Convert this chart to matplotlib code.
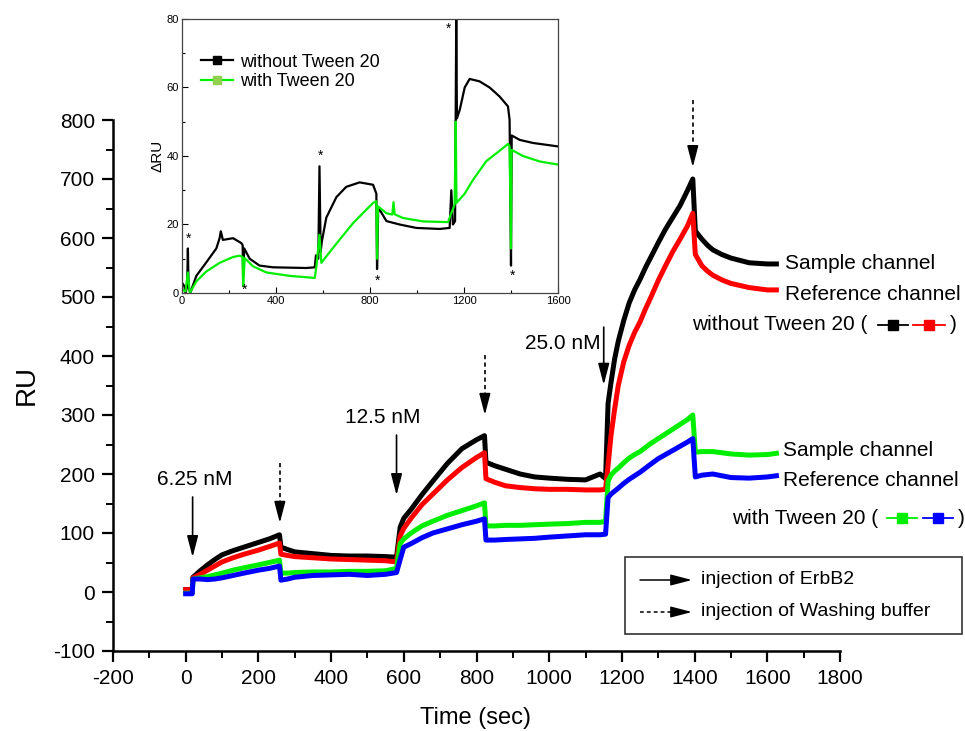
import matplotlib
matplotlib.use('Agg')
from matplotlib import pyplot as plt
from matplotlib.lines import Line2D
from matplotlib.patches import Rectangle, FancyArrowPatch
from matplotlib.ticker import MultipleLocator

plt.rcParams['font.family'] = ['Liberation Sans', 'DejaVu Sans']
plt.rcParams['axes.unicode_minus'] = False

# sensorgram, RU vs time (s), four channels
time = [0, 18, 20, 40, 60, 80, 100, 130, 160, 200, 230, 258, 262, 280, 300, 350, 400, 450, 500, 550,
        580, 590, 600, 620, 650, 680, 720, 760, 800, 822, 826, 850, 880, 920, 960, 1000, 1050, 1100, 1140, 1155,
        1162, 1170, 1180, 1190, 1205, 1220, 1235, 1250, 1265, 1280, 1300, 1320, 1340, 1360, 1380, 1395,
        1402, 1420, 1435, 1450, 1475, 1500, 1550, 1600, 1625]
sample_no_tween = [4, 4, 25, 36, 46, 55, 63, 70, 76, 84, 90, 97, 76, 72, 68, 65, 62, 61, 61, 60,
                   59, 110, 125, 140, 165, 188, 218, 243, 258, 265, 220, 214, 208, 200, 195, 193, 191, 190, 200, 192,
                   320, 355, 395, 425, 460, 490, 512, 530, 550, 568, 592, 615, 635, 655, 680, 700,
                   612, 598, 588, 580, 572, 566, 558, 556, 556]
ref_no_tween = [4, 4, 24, 30, 37, 44, 51, 58, 64, 71, 77, 83, 64, 62, 60, 58, 56, 55, 54, 53,
                51, 95, 108, 125, 148, 166, 190, 211, 228, 236, 192, 186, 180, 177, 175, 174, 174, 173, 173, 174,
                215, 265, 310, 350, 390, 418, 440, 458, 480, 500, 528, 553, 577, 598, 620, 642,
                572, 553, 544, 537, 529, 523, 516, 512, 512]
sample_tween = [-2, -2, 22, 24, 26, 29, 32, 37, 41, 46, 50, 54, 32, 32, 33, 34, 34, 35, 35, 36,
                40, 82, 90, 100, 112, 120, 130, 138, 146, 151, 112, 112, 113, 113, 114, 115, 116, 118, 118, 120,
                188, 198, 205, 210, 219, 227, 233, 238, 245, 252, 260, 268, 276, 284, 292, 300,
                237, 238, 238, 238, 236, 234, 232, 233, 235]
ref_tween = [-3, -3, 22, 22, 21, 22, 24, 28, 32, 37, 40, 44, 20, 22, 25, 28, 29, 30, 28, 30,
             33, 55, 76, 82, 92, 100, 107, 114, 120, 124, 88, 88, 89, 90, 91, 93, 95, 97, 97, 98,
             160, 166, 171, 176, 184, 191, 197, 203, 210, 217, 226, 233, 240, 247, 254, 260,
             195, 198, 199, 200, 197, 194, 193, 195, 197]

# difference curves (sample - reference) for the inset
dt_no_tween = [0, 10, 15, 22, 25, 28, 35, 61, 104, 146, 160, 165, 174, 217, 252, 258, 260, 265, 288, 330,
               387, 529, 565, 570, 580, 585, 590, 595, 614, 657, 699, 756, 813, 827, 830, 835, 870, 926, 997, 1096,
               1139, 1146, 1153, 1162, 1167, 1170, 1182, 1203, 1224, 1266, 1309, 1351, 1387, 1394, 1400, 1403, 1437, 1494, 1600]
dru_no_tween = [3, 2, 0, 2, 13, 2, 0, 5, 9, 13, 16, 18, 15.5, 16, 14.6, 14, 5, 13, 10, 8,
                7.5, 7.3, 7.5, 11, 10, 37, 12, 15, 22, 28, 31, 32.3, 31.6, 29, 7, 25, 21, 20, 19, 18.7,
                19, 30, 20, 21, 80, 51, 53.5, 60, 62.5, 61.8, 60, 57.4, 54.5, 50.6, 8, 46, 44.7, 43.8, 42.8]
dt_tween = [0, 15, 25, 33, 61, 104, 160, 217, 245, 258, 260, 267, 302, 359, 458, 565, 572, 585, 593, 614,
            671, 728, 784, 813, 827, 830, 834, 870, 895, 900, 905, 940, 1026, 1132, 1146, 1160, 1165, 1168, 1203, 1238,
            1295, 1351, 1387, 1394, 1400, 1402, 1451, 1522, 1600]
dru_tween = [1, 0.5, 6, 0, 3.4, 6.3, 8.8, 10.5, 10.9, 10.5, 2, 10.2, 7.8, 6, 5, 4.4, 7.8, 17, 8.8, 10.7,
             15.6, 20.4, 24.3, 26.3, 26.8, 10, 25.3, 23.3, 22.9, 26.5, 23, 21.9, 20.9, 20.7, 23.3, 25.8, 50, 26.3, 29, 33,
             38.5, 41.5, 43.5, 42.8, 13, 41.8, 40, 38.4, 37.5]
star_t = [26, 268, 590, 831, 1135, 1406]
star_v = [15.8, 1, 40, 3.6, 77, 5]

# ErbB2 injections (solid arrows) and washing buffer (dashed arrows)
conc_labels = ['6.25 nM', '12.5 nM', '25.0 nM']
conc_label_t = [25, 543, 1037]
conc_label_v = [190, 295, 422]
erb_t = [19, 580, 1150]
erb_top = [161, 266, 449]
erb_tip = [59, 164, 351]
wash_t = [259, 823, 1395]
wash_top = [219, 402, 834]
wash_tip = [117, 300, 720]

W, H = 965, 731
ARROW = '-|>,head_length=1.0,head_width=0.26'


def fpos(x, y):
    return x / W, 1 - y / H


def down_arrow(ax, x, top, tip, dashed=False):
    if dashed:
        ax.plot([x, x], [top, tip + 20], color='k', lw=1.2, ls=(0, (2.5, 2)), clip_on=False)
        start = tip + 22
    else:
        start = top
    ax.annotate('', xy=(x, tip), xytext=(x, start), annotation_clip=False,
                arrowprops=dict(arrowstyle=ARROW, color='k', lw=1.2, mutation_scale=13,
                                shrinkA=0, shrinkB=0))


fig = plt.figure(figsize=(9.65, 7.31), dpi=100)
ax = fig.add_axes([113 / W, 1 - 651 / H, (840 - 113) / W, (651 - 120) / H])

ax.plot(time, sample_no_tween, color='black', lw=3.6, solid_joinstyle='round')
ax.plot(time, ref_no_tween, color='#ff0000', lw=3.6, solid_joinstyle='round')
ax.plot(time, sample_tween, color='#00ee00', lw=3.6, solid_joinstyle='round')
ax.plot(time, ref_tween, color='#0000ff', lw=3.6, solid_joinstyle='round')

ax.set_xlim(-200, 1800)
ax.set_ylim(-100, 800)
ax.xaxis.set_major_locator(MultipleLocator(200))
ax.xaxis.set_minor_locator(MultipleLocator(100))
ax.yaxis.set_major_locator(MultipleLocator(100))
ax.yaxis.set_minor_locator(MultipleLocator(50))
ax.tick_params(which='major', direction='out', length=8, width=1.6, labelsize=15, pad=5)
ax.tick_params(which='minor', direction='out', length=5, width=1.4)
for side in ['top', 'right']:
    ax.spines[side].set_visible(False)
for side in ['left', 'bottom']:
    ax.spines[side].set_linewidth(1.8)

for i in range(3):
    ax.text(conc_label_t[i], conc_label_v[i], conc_labels[i], fontsize=15, ha='center', va='center')
    down_arrow(ax, erb_t[i], erb_top[i], erb_tip[i])
    down_arrow(ax, wash_t[i], wash_top[i], wash_tip[i], dashed=True)

fig.text(*fpos(27, 385), 'RU', fontsize=20, rotation=90, ha='center', va='center')
fig.text(*fpos(476, 718), 'Time (sec)', fontsize=17, ha='center', va='center')

# channel labels on the right
fig.text(*fpos(785, 263), 'Sample channel', fontsize=15, va='center')
fig.text(*fpos(785, 294), 'Reference channel', fontsize=15, va='center')
fig.text(*fpos(692, 325), 'without Tween 20 (', fontsize=15, va='center')
fig.text(*fpos(950, 325), ')', fontsize=15, va='center')
fig.text(*fpos(783, 450), 'Sample channel', fontsize=15, va='center')
fig.text(*fpos(783, 481), 'Reference channel', fontsize=15, va='center')
fig.text(*fpos(732, 518), 'with Tween 20 (', fontsize=15, va='center')
fig.text(*fpos(958, 518), ')', fontsize=15, va='center')

key_marks = [(878, 908, 325, 'black'), (913, 945, 325, '#ff0000'),
             (887, 917, 518, '#00ee00'), (923, 953, 518, '#0000ff')]
for x0, x1, y, c in key_marks:
    xa, ya = fpos(x0, y)
    xb, _ = fpos(x1, y)
    fig.add_artist(Line2D([xa, xb], [ya, ya], color=c, lw=1.3))
    fig.add_artist(Line2D([(xa + xb) / 2], [ya], marker='s', ms=7, color=c, lw=0))

# key for the injection arrows
bx0, by0 = fpos(625, 634)
bx1, by1 = fpos(962, 557)
fig.add_artist(Rectangle((bx0, by0), bx1 - bx0, by1 - by0, fill=False, ec='#333333', lw=1.2,
                         transform=fig.transFigure))
for y, dashed, label in [(580, False, 'injection of ErbB2'), (612, True, 'injection of Washing buffer')]:
    xa, ya = fpos(640, y)
    xb, _ = fpos(692, y)
    if dashed:
        fig.add_artist(Line2D([xa, xb - 0.01], [ya, ya], color='k', lw=1.1, ls=(0, (2.5, 2))))
        start = xb - 0.013
    else:
        start = xa
    fig.add_artist(FancyArrowPatch((start, ya), (xb, ya), transform=fig.transFigure,
                                   arrowstyle=ARROW, mutation_scale=13, color='k', lw=1.1,
                                   shrinkA=0, shrinkB=0))
    fig.text(*fpos(701, y), label, fontsize=14, va='center')

# inset: sample minus reference
ins = fig.add_axes([182 / W, 1 - 293 / H, (558 - 182) / W, (293 - 19) / H])
ins.plot(dt_no_tween, dru_no_tween, color='black', lw=1.6)
ins.plot(dt_tween, dru_tween, color='#00ee00', lw=1.6)
for tx, tv in zip(star_t, star_v):
    ins.text(tx, tv, '*', fontsize=10, ha='center', va='center')
ins.set_xlim(0, 1600)
ins.set_ylim(0, 80)
ins.xaxis.set_major_locator(MultipleLocator(400))
ins.xaxis.set_minor_locator(MultipleLocator(200))
ins.yaxis.set_major_locator(MultipleLocator(20))
ins.yaxis.set_minor_locator(MultipleLocator(10))
ins.tick_params(which='major', direction='in', length=4, width=0.8, labelsize=8, pad=2)
ins.tick_params(which='minor', direction='in', length=2.5, width=0.8)
for sp in ins.spines.values():
    sp.set_linewidth(0.9)
    sp.set_color('#444444')
ins.set_ylabel('ΔRU', fontsize=11, labelpad=2)

handles = [Line2D([], [], color='black', lw=1.6, marker='s', ms=6, mfc='black', mec='black'),
           Line2D([], [], color='#00ee00', lw=1.6, marker='s', ms=6, mfc='#8fd14f', mec='#8fd14f')]
ins.legend(handles, ['without Tween 20', 'with Tween 20'], loc='upper left', bbox_to_anchor=(0.03, 0.9),
           frameon=False, fontsize=13, handlelength=1.8, handletextpad=0.4, labelspacing=0.15,
           borderaxespad=0)

fig.savefig('out.png', dpi=100)
